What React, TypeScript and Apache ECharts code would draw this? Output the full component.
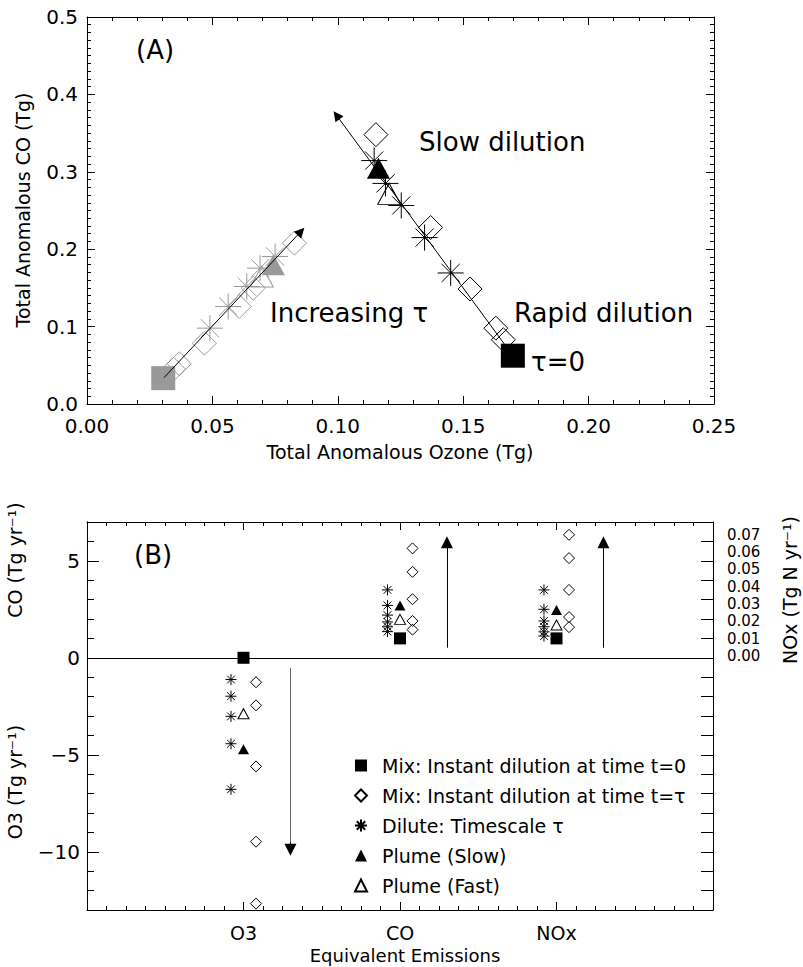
import React, { useEffect, useRef } from 'react';
import * as echarts from 'echarts';

// ---------- Panel A : Total Anomalous Ozone (x, Tg) vs Total Anomalous CO (y, Tg)
const A_BLACK_SQUARE = [[0.1698, 0.0624]];
const A_BLACK_DIAMONDS = [[0.1152, 0.348], [0.137, 0.228], [0.1527, 0.1486], [0.163, 0.098], [0.166, 0.083]];
const A_BLACK_ASTERISKS = [[0.1145, 0.3145], [0.119, 0.285], [0.1253, 0.2565], [0.1346, 0.215], [0.145, 0.1693]];
const A_BLACK_TRI_FILLED = [[0.1162, 0.3045]];
const A_BLACK_TRI_OPEN = [[0.1205, 0.2715]];
const A_BLACK_ARROW = [[0.1698, 0.0624], [0.0995, 0.373]];

const A_GRAY_SQUARE = [[0.0304, 0.0334]];
const A_GRAY_DIAMONDS = [[0.0345, 0.045], [0.0368, 0.052], [0.0468, 0.0785], [0.0607, 0.1259], [0.0663, 0.1497], [0.0827, 0.2079]];
const A_GRAY_ASTERISKS = [[0.049, 0.098], [0.0563, 0.1259], [0.0637, 0.1518], [0.069, 0.1755], [0.075, 0.1906]];
const A_GRAY_TRI_FILLED = [[0.0743, 0.1798]];
const A_GRAY_TRI_OPEN = [[0.0697, 0.1647]];
const A_GRAY_ARROW = [[0.0307, 0.034], [0.0853, 0.2229]];

const A_X_TICKS = [0, 0.25, 0.05];
const A_Y_TICKS = [0, 0.5, 0.1];

// ---------- Panel B : Equivalent Emissions
const CATEGORIES = ['O3', 'CO', 'NOx'];
const B_MIX_T0 = [0, 1.0, 1.0];
const B_MIX_TAU = [
  [-1.26, -2.45, -5.6, -9.48, -12.67],
  [5.64, 4.43, 3.02, 1.9, 1.45],
  [6.34, 5.14, 3.5, 2.1, 1.58],
];
const B_DILUTE = [
  [-1.12, -1.98, -3.02, -4.43, -6.78],
  [3.5, 2.7, 2.2, 1.85, 1.6, 1.35],
  [3.5, 2.5, 1.9, 1.6, 1.34, 1.12],
];
const B_PLUME_SLOW = [-4.71, 2.7, 2.47];
const B_PLUME_FAST = [-2.88, 1.98, 1.69];
const B_ARROWS = [[-0.52, -9.9], [0.52, 5.95], [0.52, 5.95]];
const B_Y_RANGE = [-13, 7];
const B_Y_LABELS = [-10, -5, 0, 5];
const NOX_TICK_LABELS = [0, 0.01, 0.02, 0.03, 0.04, 0.05, 0.06, 0.07];

const LEGEND_NAMES = [
  'Mix: Instant dilution at time t=0',
  'Mix: Instant dilution at time t=τ',
  'Dilute: Timescale τ',
  'Plume (Slow)',
  'Plume (Fast)',
];

const FONT = 'DejaVu Sans';
const GRAY = '#999999';
const ASTERISK = 'path://M10 0L10 20M0 10L20 10M3 3L17 17M3 17L17 3';

function axisBase(opts: any) {
  const tickLen = opts.tickLen ?? 8;
  return {
    type: 'value',
    gridIndex: opts.grid,
    position: opts.position,
    min: opts.min,
    max: opts.max,
    interval: opts.interval,
    axisLine: { show: opts.line !== false, onZero: false, lineStyle: { color: '#000', width: 1 } },
    axisTick: {
      show: opts.ticks !== false,
      inside: true,
      length: tickLen,
      lineStyle: { color: '#000', width: 1 },
      ...(opts.tickValues ? { customValues: opts.tickValues } : {}),
    },
    minorTick: {
      show: !!opts.minor,
      splitNumber: opts.minor || 5,
      length: opts.minorLen ?? 4,
      lineStyle: { color: '#000', width: 1 },
    },
    splitLine: { show: false },
    minorSplitLine: { show: false },
    axisLabel: {
      show: !!opts.formatter,
      color: '#000',
      fontFamily: FONT,
      fontSize: opts.fontSize ?? 20,
      lineHeight: opts.lineHeight,
      margin: opts.margin ?? 8,
      showMinLabel: true,
      showMaxLabel: true,
      formatter: opts.formatter,
      ...(opts.labelValues ? { customValues: opts.labelValues } : {}),
    },
  };
}

function scatter(name: string, data: number[][], symbol: string, size: any, color: string, filled: boolean, xi: number, yi: number, extra: any = {}) {
  return {
    type: 'scatter',
    name,
    xAxisIndex: xi,
    yAxisIndex: yi,
    data,
    symbol,
    symbolSize: size,
    silent: true,
    z: 3,
    itemStyle: filled
      ? { color, borderColor: color, borderWidth: 0, opacity: 1 }
      : { color: 'transparent', borderColor: color, borderWidth: 1, opacity: 1 },
    emphasis: { disabled: true },
    ...extra,
  };
}

function arrowLine(points: number[][], xi: number, yi: number, color: string, head: number, withHead = true) {
  return {
    type: 'scatter',
    xAxisIndex: xi,
    yAxisIndex: yi,
    data: [],
    silent: true,
    z: 2,
    markLine: {
      silent: true,
      symbol: ['none', withHead ? 'triangle' : 'none'],
      symbolSize: head,
      label: { show: false },
      lineStyle: { type: 'solid', color, width: 1 },
      emphasis: { disabled: true },
      data: [[{ coord: points[0] }, { coord: points[1] }]],
    },
  };
}

function catPoints(values: number[], offset: number) {
  return values.map((v, i) => [i + 1 + offset, v]);
}
function catGroups(groups: number[][], offset: number) {
  const out: number[][] = [];
  groups.forEach((g, i) => g.forEach((v) => out.push([i + 1 + offset, v])));
  return out;
}

function text(str: string, x: number, y: number, size: number, opts: any = {}) {
  return {
    type: 'text',
    x,
    y,
    rotation: opts.rotate ? Math.PI / 2 : 0,
    silent: true,
    style: {
      text: str,
      fontSize: size,
      fontFamily: FONT,
      fill: '#000',
      align: opts.align || 'center',
      verticalAlign: 'middle',
    },
  };
}

export default function App() {
  const ref = useRef<HTMLDivElement>(null);
  useEffect(() => {
    if (!ref.current) return;
    const chart = echarts.init(ref.current, null, { renderer: 'svg' });
    const noxMax = 0.0773;
    const noxMin = -0.1468;
    const ARROW_X = 0.3;

    const bArrowSeries: any[] = [];
    B_ARROWS.forEach((a, i) => {
      const x = i + 1 + ARROW_X;
      const shaftColor = i === 0 ? '#666' : '#000';
      bArrowSeries.push(arrowLine([[x, a[0]], [x, a[1]]], 2, 2, shaftColor, 12, i !== 0));
      if (i === 0) {
        const dir = Math.sign(a[1] - a[0]);
        bArrowSeries.push(arrowLine([[x, a[1] - dir * 0.4], [x, a[1]]], 2, 2, '#000', 12, true));
      }
    });

    const option: any = {
      animation: false,
      backgroundColor: '#fff',
      grid: [
        { left: 87, top: 17, width: 627, height: 387 },
        { left: 87, top: 522, width: 626, height: 388 },
      ],
      xAxis: [
        axisBase({ grid: 0, position: 'bottom', min: A_X_TICKS[0], max: A_X_TICKS[1], interval: A_X_TICKS[2], minor: 5, margin: 12, formatter: (v: number) => v.toFixed(2) }),
        axisBase({ grid: 0, position: 'top', min: A_X_TICKS[0], max: A_X_TICKS[1], interval: A_X_TICKS[2], minor: 5 }),
        axisBase({ grid: 1, position: 'bottom', min: 0, max: CATEGORIES.length + 1, interval: 1, minor: 8, margin: 13, fontSize: 19, formatter: (v: number) => CATEGORIES[v - 1] ?? '' }),
        axisBase({ grid: 1, position: 'top', min: 0, max: CATEGORIES.length + 1, interval: 1, minor: 8 }),
      ],
      yAxis: [
        axisBase({ grid: 0, position: 'left', min: A_Y_TICKS[0], max: A_Y_TICKS[1], interval: A_Y_TICKS[2], minor: 10, margin: 9, formatter: (v: number) => v.toFixed(1) }),
        axisBase({ grid: 0, position: 'right', min: A_Y_TICKS[0], max: A_Y_TICKS[1], interval: A_Y_TICKS[2], minor: 10 }),
        axisBase({ grid: 1, position: 'left', min: B_Y_RANGE[0], max: B_Y_RANGE[1], interval: 1, tickLen: 7, margin: 7,
          formatter: (v: number) => (B_Y_LABELS.includes(v) ? String(v).replace('-', '−') : '') }),
        axisBase({ grid: 1, position: 'left', min: B_Y_RANGE[0], max: B_Y_RANGE[1], interval: 1, tickLen: 12, tickValues: B_Y_LABELS }),
        axisBase({ grid: 1, position: 'right', min: B_Y_RANGE[0], max: B_Y_RANGE[1], interval: 1, tickLen: 12 }),
        axisBase({ grid: 1, position: 'right', min: noxMin, max: noxMax, line: false, ticks: false, margin: 14,
          fontSize: 15, lineHeight: 15, labelValues: NOX_TICK_LABELS, formatter: (v: number) => v.toFixed(2) }),
      ],
      legend: {
        data: LEGEND_NAMES,
        orient: 'vertical',
        left: 349,
        top: 751,
        itemWidth: 12,
        itemHeight: 12,
        itemGap: 11,
        selectedMode: false,
        textStyle: { fontFamily: FONT, fontSize: 19, color: '#000', lineHeight: 19, padding: [0, 0, 0, 10] },
      },
      series: [
        // Panel A
        arrowLine(A_BLACK_ARROW, 0, 0, '#000', 10),
        arrowLine(A_GRAY_ARROW, 0, 0, '#000', 10),
        scatter('A gray diamonds', A_GRAY_DIAMONDS, 'diamond', 24, GRAY, false, 0, 0),
        scatter('A gray asterisks', A_GRAY_ASTERISKS, ASTERISK, 26, GRAY, false, 0, 0),
        scatter('A gray open triangle', A_GRAY_TRI_OPEN, 'triangle', [23, 21], GRAY, false, 0, 0),
        scatter('A gray filled triangle', A_GRAY_TRI_FILLED, 'triangle', [23, 21], GRAY, true, 0, 0),
        scatter('A gray square', A_GRAY_SQUARE, 'rect', 24, GRAY, true, 0, 0),
        scatter('A black diamonds', A_BLACK_DIAMONDS, 'diamond', 24, '#000', false, 0, 0),
        scatter('A black asterisks', A_BLACK_ASTERISKS, ASTERISK, 26, '#000', false, 0, 0),
        scatter('A black open triangle', A_BLACK_TRI_OPEN, 'triangle', [23, 21], '#000', false, 0, 0),
        scatter('A black filled triangle', A_BLACK_TRI_FILLED, 'triangle', [23, 21], '#000', true, 0, 0),
        scatter('A black square', A_BLACK_SQUARE, 'rect', 24, '#000', true, 0, 0),
        // Panel B
        ...bArrowSeries,
        scatter(LEGEND_NAMES[0], catPoints(B_MIX_T0, 0), 'rect', 12, '#000', true, 2, 2, {
          markLine: {
            silent: true,
            symbol: ['none', 'none'],
            label: { show: false },
            lineStyle: { type: 'solid', color: '#000', width: 1 },
            data: [{ yAxis: 0 }],
          },
        }),
        scatter(LEGEND_NAMES[1], catGroups(B_MIX_TAU, 0.08), 'diamond', 11, '#000', false, 2, 2),
        scatter(LEGEND_NAMES[2], catGroups(B_DILUTE, -0.08), ASTERISK, 11, '#000', false, 2, 2),
        scatter(LEGEND_NAMES[3], catPoints(B_PLUME_SLOW, 0), 'triangle', [11, 10], '#000', true, 2, 2),
        scatter(LEGEND_NAMES[4], catPoints(B_PLUME_FAST, 0), 'triangle', [11, 10], '#000', false, 2, 2),
      ],
      graphic: [
        text('(A)', 136, 50, 26, { align: 'left' }),
        text('Slow dilution', 419, 142, 26, { align: 'left' }),
        text('Increasing τ', 270, 313, 26, { align: 'left' }),
        text('Rapid dilution', 514, 313, 26, { align: 'left' }),
        text('τ=0', 531, 362, 26, { align: 'left' }),
        text('Total Anomalous CO (Tg)', 23, 210, 19, { rotate: true }),
        text('Total Anomalous Ozone (Tg)', 400, 452, 19),
        text('(B)', 134, 555, 26, { align: 'left' }),
        text('CO (Tg yr⁻¹)', 15, 560, 19, { rotate: true }),
        text('O3 (Tg yr⁻¹)', 15, 782, 19, { rotate: true }),
        text('NOx (Tg N yr⁻¹)', 790, 590, 19, { rotate: true }),
        text('Equivalent Emissions', 405, 955, 18),
      ],
    };
    chart.setOption(option);
    return () => chart.dispose();
  }, []);
  return <div ref={ref} style={{ position: 'fixed', left: 0, top: 0, width: 803, height: 967 }} />;
}
